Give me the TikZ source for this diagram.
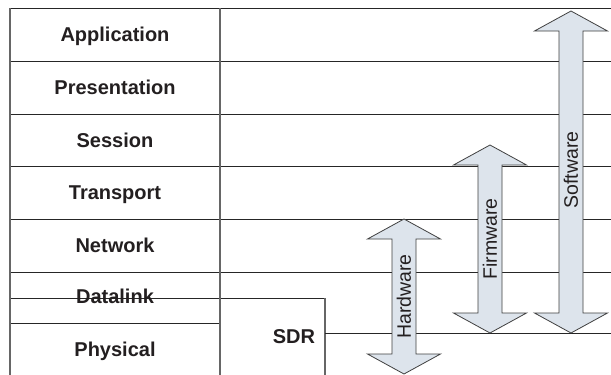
\documentclass[tikz,border=0pt]{standalone}
\usepackage{fontspec}
\setmainfont{Liberation Sans}
\definecolor{arrowfill}{RGB}{221,228,236}
\definecolor{inkdark}{RGB}{35,31,32}
\begin{document}
\begin{tikzpicture}[x=1pt,y=-1pt,
  hline/.style={draw=black!85, line width=1pt},
  vline/.style={draw=black!60, line width=1.2pt},
  layerlabel/.style={font=\fontsize{20}{22}\selectfont\bfseries, text=inkdark, inner sep=0pt, anchor=base},
  arrowlabel/.style={font=\fontsize{19.5}{22}\selectfont, text=inkdark, inner sep=0pt, rotate=90},
  dblarrow/.style={draw=black!75, line width=0.8pt, fill=arrowfill, line join=miter}]
\useasboundingbox (0,0) rectangle (611,375);
\fill[white] (0,0) rectangle (611,375);
% horizontal row lines
\foreach \yy in {8,61,114,166,219,272} \draw[hline] (10,\yy) -- (611,\yy);
\draw[hline] (10,323) -- (220,323);
% SDR box
\draw[hline] (10,298) -- (325,298);
\draw[vline] (325,298) -- (325,375);
\draw[hline] (325,333) -- (611,333);
% verticals
\draw[vline] (10,8) -- (10,375);
\draw[vline] (220,8) -- (220,375);
% layer labels
\node[layerlabel] (app) at (115,41.5) {Application};
\node[layerlabel] (pres) at (115,94.5) {Presentation};
\node[layerlabel] (sess) at (115,147) {Session};
\node[layerlabel] (trans) at (115,199.5) {Transport};
\node[layerlabel] (net) at (115,252) {Network};
\node[layerlabel] (dl) at (115,303.5) {Datalink};
\node[layerlabel] (phy) at (115,356) {Physical};
\node[layerlabel] (sdr) at (294,343.5) {SDR};
% double arrows
\newcommand{\layerarrow}[3]{%
  \draw[dblarrow] (#1,#2) -- (#1+36.5,#2+20) -- (#1+12,#2+20) -- (#1+12,#3-20)
    -- (#1+36.5,#3-20) -- (#1,#3) -- (#1-36.5,#3-20) -- (#1-12,#3-20)
    -- (#1-12,#2+20) -- (#1-36.5,#2+20) -- cycle;}
\layerarrow{404}{219}{374}
\layerarrow{490}{145}{333}
\layerarrow{571}{11}{333}
\node[arrowlabel] (hw) at (404,296.5) {Hardware};
\node[arrowlabel] (fw) at (490,239) {Firmware};
\node[arrowlabel] (sw) at (571,170) {Software};
\end{tikzpicture}
\end{document}
